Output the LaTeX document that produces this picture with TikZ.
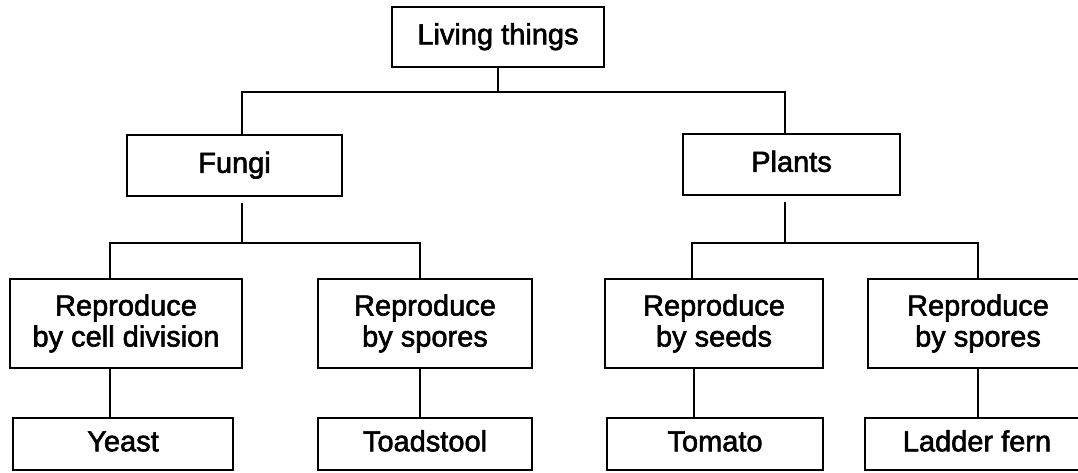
\documentclass[tikz,border=0pt]{standalone}
\usepackage{fontspec}
\newfontfamily\lab[FakeBold=2]{Liberation Sans}
\begin{document}
\begin{tikzpicture}[x=1pt,y=-1pt,
  box/.style={draw, line width=2.8pt, inner sep=0pt, font=\lab\fontsize{29}{31}\selectfont},
  one/.style={box, text height=20.5pt, text depth=6pt},
  two/.style={box, align=center},
  link/.style={line width=2.8pt}]
\useasboundingbox (0,0) rectangle (1078,472);
% level 1
\node[one, minimum width=212pt, minimum height=60pt] (top) at (498,37) {Living things};
% level 2
\node[one, minimum width=215pt, minimum height=61pt] (fungi) at (234.5,165.5) {Fungi};
\node[one, minimum width=217pt, minimum height=61pt] (plants) at (791.5,164.5) {Plants};
% level 3
\node[two, minimum width=232pt, minimum height=89pt] (f1) at (126,323.5) {Reproduce\\by cell division};
\node[two, minimum width=214pt, minimum height=89pt] (f2) at (425,323.5) {Reproduce\\by spores};
\node[two, minimum width=218pt, minimum height=89pt] (p1) at (714,323.5) {Reproduce\\by seeds};
\node[two, minimum width=220pt, minimum height=89pt] (p2) at (978,323.5) {Reproduce\\by spores};
% level 4
\node[one, minimum width=220pt, minimum height=52pt] (yeast) at (123,444) {Yeast};
\node[one, minimum width=214pt, minimum height=52pt] (toad) at (425,444) {Toadstool};
\node[one, minimum width=216pt, minimum height=52pt] (tomato) at (715,444) {Tomato};
\node[one, minimum width=224pt, minimum height=52pt] (fern) at (977,444) {Ladder fern};
% bars
\coordinate (bar1) at (0,92);
\coordinate (bar2) at (0,243);
% connectors
\draw[link] (top.south) -- (top.south |- bar1);
\draw[link] ([xshift=7.5pt]fungi.north) -- ([xshift=7.5pt]fungi.north |- bar1) -| ([xshift=-6.5pt]plants.north);
\draw[link] ([xshift=7.5pt,yshift=-6pt]fungi.south) -- ([xshift=7.5pt]fungi.south |- bar2);
\draw[link] ([xshift=-6.5pt,yshift=-6pt]plants.south) -- ([xshift=-6.5pt]plants.south |- bar2);
\draw[link] ([xshift=-16pt]f1.north) -- ([xshift=-16pt]f1.north |- bar2) -| ([xshift=-5pt]f2.north);
\draw[link] ([xshift=-22pt]p1.north) -- ([xshift=-22pt]p1.north |- bar2) -| (p2.north);
\draw[link] ([xshift=-16pt]f1.south) -- ([xshift=-16pt]f1.south |- yeast.north);
\draw[link] ([xshift=-5pt]f2.south) -- ([xshift=-5pt]f2.south |- toad.north);
\draw[link] ([xshift=-20pt]p1.south) -- ([xshift=-20pt]p1.south |- tomato.north);
\draw[link] (p2.south) -- (p2.south |- fern.north);
\end{tikzpicture}
\end{document}
